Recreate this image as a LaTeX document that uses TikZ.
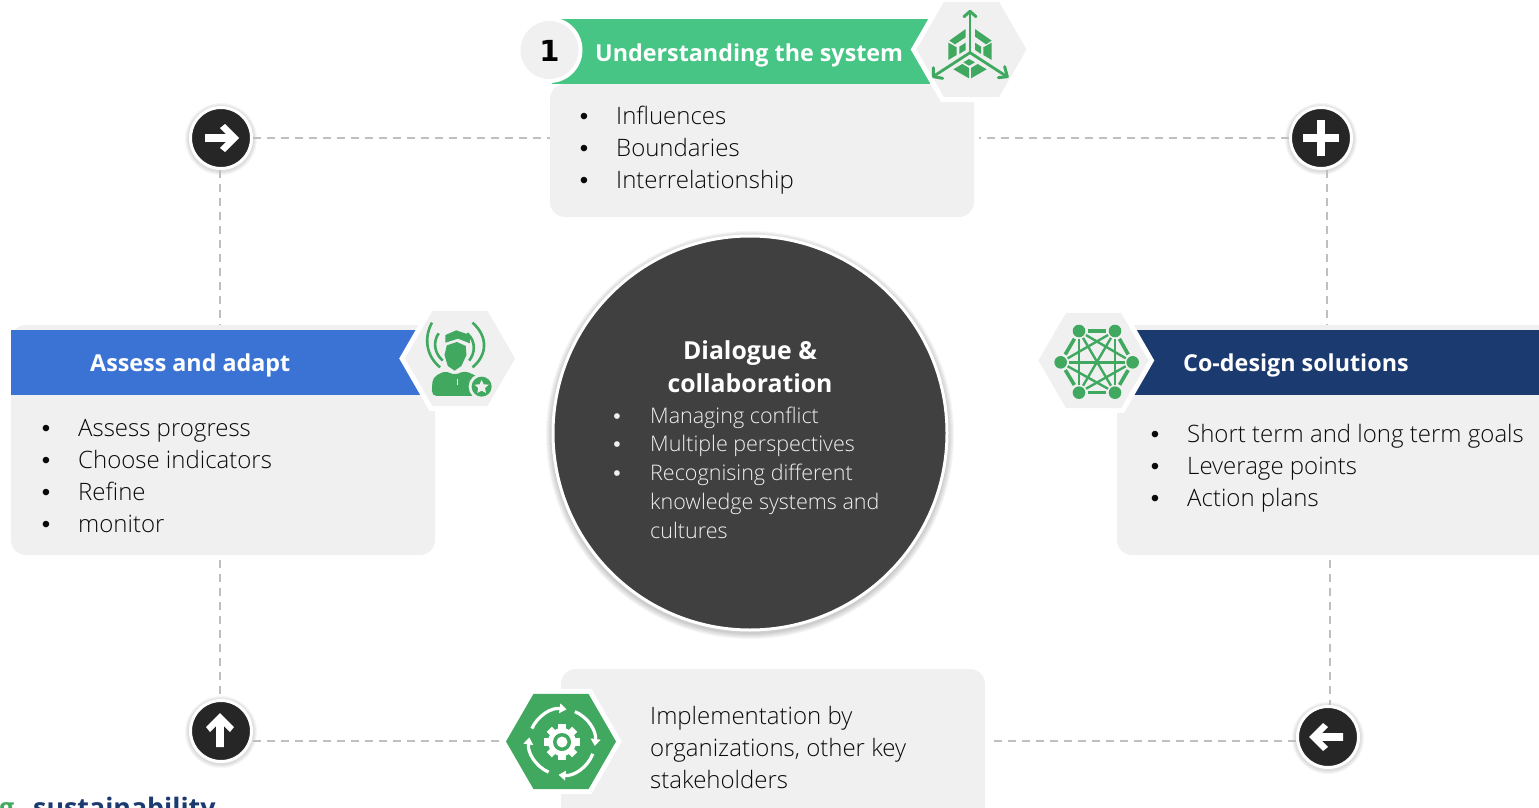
\documentclass[tikz,border=0pt]{standalone}
\usepackage{fontspec}
\usetikzlibrary{shapes.geometric,calc,arrows.meta}
\setmainfont{Open Sans Light}
\newfontfamily\semi{Open Sans}
\newfontfamily\numf{DejaVu Sans}
\newfontfamily\dotf{Liberation Sans}
\definecolor{boxgray}{HTML}{F0F0F0}
\definecolor{headgreen}{HTML}{46C585}
\definecolor{headblue}{HTML}{3A73D3}
\definecolor{headnavy}{HTML}{1B3A6F}
\definecolor{icongreen}{HTML}{40A85F}
\definecolor{darkdisc}{HTML}{404040}
\definecolor{btndark}{HTML}{262626}
\definecolor{dashgray}{HTML}{BFBFBF}
\definecolor{ink}{HTML}{0A0A0A}
\tikzset{
  panel/.style={draw=none,fill=boxgray,rounded corners=15pt,inner sep=0pt,outer sep=0pt},
  hexa/.style={shape=regular polygon,regular polygon sides=6,minimum size=#1,inner sep=0pt,outer sep=0pt,fill=boxgray,preaction={draw=white,line width=10pt}},
  conn/.style={draw=dashgray,line width=1.5pt,dash pattern=on 8pt off 6pt},
  btn/.style={circle,fill=btndark,draw=white,line width=3pt,minimum size=61pt,inner sep=0pt},
  item/.style={anchor=base west,inner sep=0pt,text=ink,font=\fontsize{24}{28}\selectfont},
  dotm/.style={anchor=base,inner sep=0pt,text=ink,font=\dotf\fontsize{24}{28}\selectfont},
  ditem/.style={anchor=base west,inner sep=0pt,text=boxgray,font=\fontsize{21.5}{26}\selectfont},
  ddot/.style={anchor=base,inner sep=0pt,text=boxgray,font=\dotf\fontsize{21}{26}\selectfont},
  htitle/.style={anchor=base west,inner sep=0pt,text=white,font=\semi\bfseries\fontsize{23.3}{28}\selectfont},
  ctitle/.style={anchor=base,inner sep=0pt,text=white,font=\semi\bfseries\fontsize{24.8}{30}\selectfont},
  gline/.style={draw=icongreen,line width=2.6pt},
  barrow/.pic={\fill[white] (0,-18) -- (14,-4) -- (10,1) -- (3.8,-5) -- (3.8,16) -- (-3.8,16) -- (-3.8,-5) -- (-10,1) -- (-14,-4) -- cycle;},
}
\begin{document}
\begin{tikzpicture}[x=1pt,y=-1pt]
\useasboundingbox (0,0) rectangle (1539,808);
\clip (0,0) rectangle (1539,808);

% panels
\path[panel] (550,84) rectangle (974,217);
\coordinate (boxTw) at (550,138); \coordinate (boxTe) at (974,138);
\path[panel] (11,325) rectangle (435,555);
\coordinate (boxLn) at (220,325); \coordinate (boxLs) at (220,555);
\path[panel] (1117,325) rectangle (1560,555);
\coordinate (boxRn) at (1327,325); \coordinate (boxRs) at (1330,555);
\path[panel] (561,669) rectangle (985,830);
\coordinate (boxBw) at (506,741); \coordinate (boxBe) at (985,741);

% buttons
\foreach \cx/\cy in {221/138,1321/138,221/731,1328/737}{
  \foreach \r in {36,35,34,33}{\fill[black,opacity=.035] (\cx,\cy+1) circle (\r pt);}
}
\node[btn] (btnA) at (221,138) {};
\node[btn] (btnB) at (1321,138) {};
\node[btn] (btnD) at (221,731) {};
\node[btn] (btnC) at (1328,737) {};

% connectors
\draw[conn] (btnA.east) -- (boxTw);
\draw[conn] (btnB.west) -- ([xshift=5pt]boxTe);
\draw[conn] (btnA.south -| boxLn) -- (boxLn);
\draw[conn] ([yshift=-5pt]boxLs) -- (btnD.north -| boxLs);
\draw[conn] ([xshift=6pt]btnB.south) -- (boxRn);
\draw[conn] ([yshift=-5pt]boxRs) -- (boxRs |- btnC.north);
\draw[conn] ([yshift=-10pt]btnD.east) -- (boxBw);
\draw[conn] ([yshift=-4pt]btnC.west) -- ([xshift=5pt]boxBe);

% button glyphs
\pic[rotate=-90] at (221,138) {barrow};
\pic at (220,731) {barrow};
\pic[rotate=90] at (1327,737) {barrow};
\fill[white] (1303,134) rectangle (1339,142);
\fill[white] (1317,120) rectangle (1325,156);

% header bands
\fill[headgreen] (552,19) rectangle (930,84);
\fill[headblue] (11,330) rectangle (425,395);
\fill[headnavy] (1125,330) rectangle (1539,395);

% number circle
\fill[white] (549.5,50) circle (33pt);
\node[circle,fill=boxgray,minimum size=58pt,inner sep=0pt] (numc) at (549.5,50) {};
\node[inner sep=0pt,text=black,font=\numf\bfseries\fontsize{29}{29}\selectfont] (numt) at (549.5,50.5) {1};

% hexagons
\node[hexa=110pt] (hexT) at (971.5,49.5) {};
\node[hexa=110pt] (hexL) at (460,358.5) {};
\node[hexa=110pt] (hexR) at (1093.5,360.5) {};
\node[hexa=110pt,fill=icongreen] (hexB) at (561,741.5) {};

% icon: cube with arrows
\begin{scope}[shift={(900,0)},x=.3333pt,y=-.3333pt]
\fill[icongreen] (197,87) -- (148,122) -- (165,133) -- (197,112) -- cycle;
\fill[icongreen] (225,87) -- (275,122) -- (258,133) -- (225,110) -- cycle;
\fill[icongreen] (145,128) -- (170,142) -- (170,165) -- (145,180) -- cycle;
\fill[icongreen] (275,128) -- (250,142) -- (250,165) -- (275,180) -- cycle;
\fill[icongreen] (178,140) -- (197,128) -- (197,150) -- (178,162) -- cycle;
\fill[icongreen] (225,128) -- (243,140) -- (243,162) -- (225,150) -- cycle;
\fill[icongreen] (207,177) -- (225,187) -- (207,197) -- (190,187) -- cycle;
\fill[icongreen] (160,208) -- (187,192) -- (207,204) -- (207,235) -- cycle;
\fill[icongreen] (213,235) -- (213,204) -- (233,192) -- (260,208) -- cycle;
\draw[icongreen,line width=2.8pt] (210,158) -- (210,36);
\draw[icongreen,line width=3pt,line cap=round,line join=round] (192,50) -- (210,34) -- (228,50);
\draw[icongreen,line width=2.8pt] (210,158) -- (102,228);
\draw[icongreen,line width=3pt,line cap=round,line join=round] (100,203) -- (100,230) -- (128,235);
\draw[icongreen,line width=2.8pt] (210,158) -- (318,228);
\draw[icongreen,line width=3pt,line cap=round,line join=round] (314,200) -- (322,230) -- (295,233);
\end{scope}

% icon: person with signal arcs and badge
\begin{scope}[shift={(0,300)},x=.338pt,y=-.3333pt]
\draw[gline] (1278,68) .. controls (1255,110) and (1258,165) .. (1302,202);
\draw[gline] (1298,100) .. controls (1280,125) and (1285,160) .. (1310,182);
\draw[gline] (1398,68) .. controls (1445,110) and (1442,165) .. (1398,202);
\draw[gline] (1382,100) .. controls (1410,125) and (1405,160) .. (1388,182);
\fill[icongreen] (1318,105) -- (1350,91) -- (1390,105) -- (1390,130) -- (1355,116) -- (1318,128) -- cycle;
\fill[icongreen] (1322,136) -- (1352,126) -- (1378,138) -- (1380,165) -- (1365,198) -- (1345,212) -- (1325,198) -- (1315,165) -- cycle;
\fill[icongreen,rounded corners=5pt] (1277,288) -- (1280,232) -- (1318,212) -- (1345,226) -- (1375,212) -- (1418,232) -- (1425,288) -- cycle;
\draw[boxgray,line width=.8pt] (1352,236) -- (1352,254);
\fill[boxgray] (1425,260) circle (13pt);
\fill[icongreen] (1425,260) circle (10pt);
\fill[boxgray] (1425,240) -- (1431,253) -- (1446,254) -- (1435,264) -- (1438,279) -- (1425,272) -- (1412,279) -- (1415,264) -- (1404,254) -- (1419,253) -- cycle;
\end{scope}

% icon: network
\begin{scope}[shift={(1020,300)},x=.3333pt,y=-.3333pt]
\coordinate (n1) at (177,93); \coordinate (n2) at (285,93);
\coordinate (n3) at (338,187); \coordinate (n4) at (285,278);
\coordinate (n5) at (177,278); \coordinate (n6) at (122,187);
\foreach \a/\b in {n1/n3,n1/n4,n1/n5,n2/n4,n2/n5,n2/n6,n3/n5,n3/n6,n4/n6}{
  \draw[icongreen,line width=2.4pt,shorten >=8pt,shorten <=8pt] (\a) -- (\b);
}
\foreach \a/\b in {n1/n2,n2/n3,n3/n4,n4/n5,n5/n6,n6/n1}{
  \draw[icongreen,line width=3.6pt,shorten >=9pt,shorten <=9pt] (\a) -- (\b);
}
\foreach \a in {n1,n2,n3,n4,n5,n6}{\fill[icongreen] (\a) circle (6.3pt);}
\end{scope}

% icon: gear and cycle arrows
\begin{scope}[shift={(562,742)}]
\foreach \a in {0,45,...,315}{
  \fill[white,rotate=\a] (-3.6,-18) rectangle (3.6,-12);
}
\fill[white] (0,0) circle (14pt);
\fill[icongreen] (0,0) circle (9pt);
\fill[white] (0,0) circle (5.5pt);
\foreach \s/\e in {156/82,67/-7,-21/-96,-114/-188}{
  \draw[white,line width=3.2pt,-{Triangle[width=9.5pt,length=7pt]}] ({33*cos(\s)},{-33*sin(\s)}) arc[start angle=\s,end angle=\e,radius=33pt];
}
\end{scope}

% central disc
\foreach \r in {204,203,202,201,200,199}{\fill[black,opacity=.035] (750,435) circle (\r pt);}
\node[circle,fill=darkdisc,draw=white,line width=3pt,minimum size=394pt,inner sep=0pt] (disc) at (750,433) {};

% header text
\node[htitle] (tT) at (595,61.5) {Understanding the system};
\node[htitle] (tL) at (90,371) {Assess and adapt};
\node[htitle] (tR) at (1183,371) {Co-design solutions};

% lists
\node[dotm] (d11) at (584,124) {•}; \node[item] (i11) at (616,124) {Influences};
\node[dotm] (d12) at (584,156) {•}; \node[item] (i12) at (616,156) {Boundaries};
\node[dotm] (d13) at (584,188) {•}; \node[item] (i13) at (616,188) {Interrelationship};

\node[dotm] (d21) at (46,436) {•}; \node[item] (i21) at (78,436) {Assess progress};
\node[dotm] (d22) at (46,468) {•}; \node[item] (i22) at (78,468) {Choose indicators};
\node[dotm] (d23) at (46,500) {•}; \node[item] (i23) at (78,500) {Refine};
\node[dotm] (d24) at (46,532) {•}; \node[item] (i24) at (78,532) {monitor};

\node[dotm] (d31) at (1155,442) {•}; \node[item] (i31) at (1187,442) {Short term and long term goals};
\node[dotm] (d32) at (1155,474) {•}; \node[item] (i32) at (1187,474) {Leverage points};
\node[dotm] (d33) at (1155,506) {•}; \node[item] (i33) at (1187,506) {Action plans};

\node[item] (i41) at (650,724) {Implementation by};
\node[item] (i42) at (650,756) {organizations, other key};
\node[item] (i43) at (650,788) {stakeholders};

% disc text
\node[ctitle] (c1) at (750,359) {Dialogue \&};
\node[ctitle] (c2) at (750,392) {collaboration};
\node[ddot] (e1) at (617,423) {•}; \node[ditem] (f1) at (650,423) {Managing conflict};
\node[ddot] (e2) at (617,451) {•}; \node[ditem] (f2) at (650,451) {Multiple perspectives};
\node[ddot] (e3) at (617,480) {•}; \node[ditem] (f3) at (650,480) {Recognising different};
\node[ditem] (f4) at (650,509) {knowledge systems and};
\node[ditem] (f5) at (650,538) {cultures};

% logo, cut by the page edge
\node[anchor=base west,inner sep=0pt,text=icongreen,font=\semi\bfseries\fontsize{26.8}{30}\selectfont] (logog) at (-1,817) {g};
\node[anchor=base west,inner sep=0pt,text=headnavy,font=\semi\bfseries\fontsize{26.8}{30}\selectfont] (logo) at (33,817) {sustainability};
\end{tikzpicture}
\end{document}
